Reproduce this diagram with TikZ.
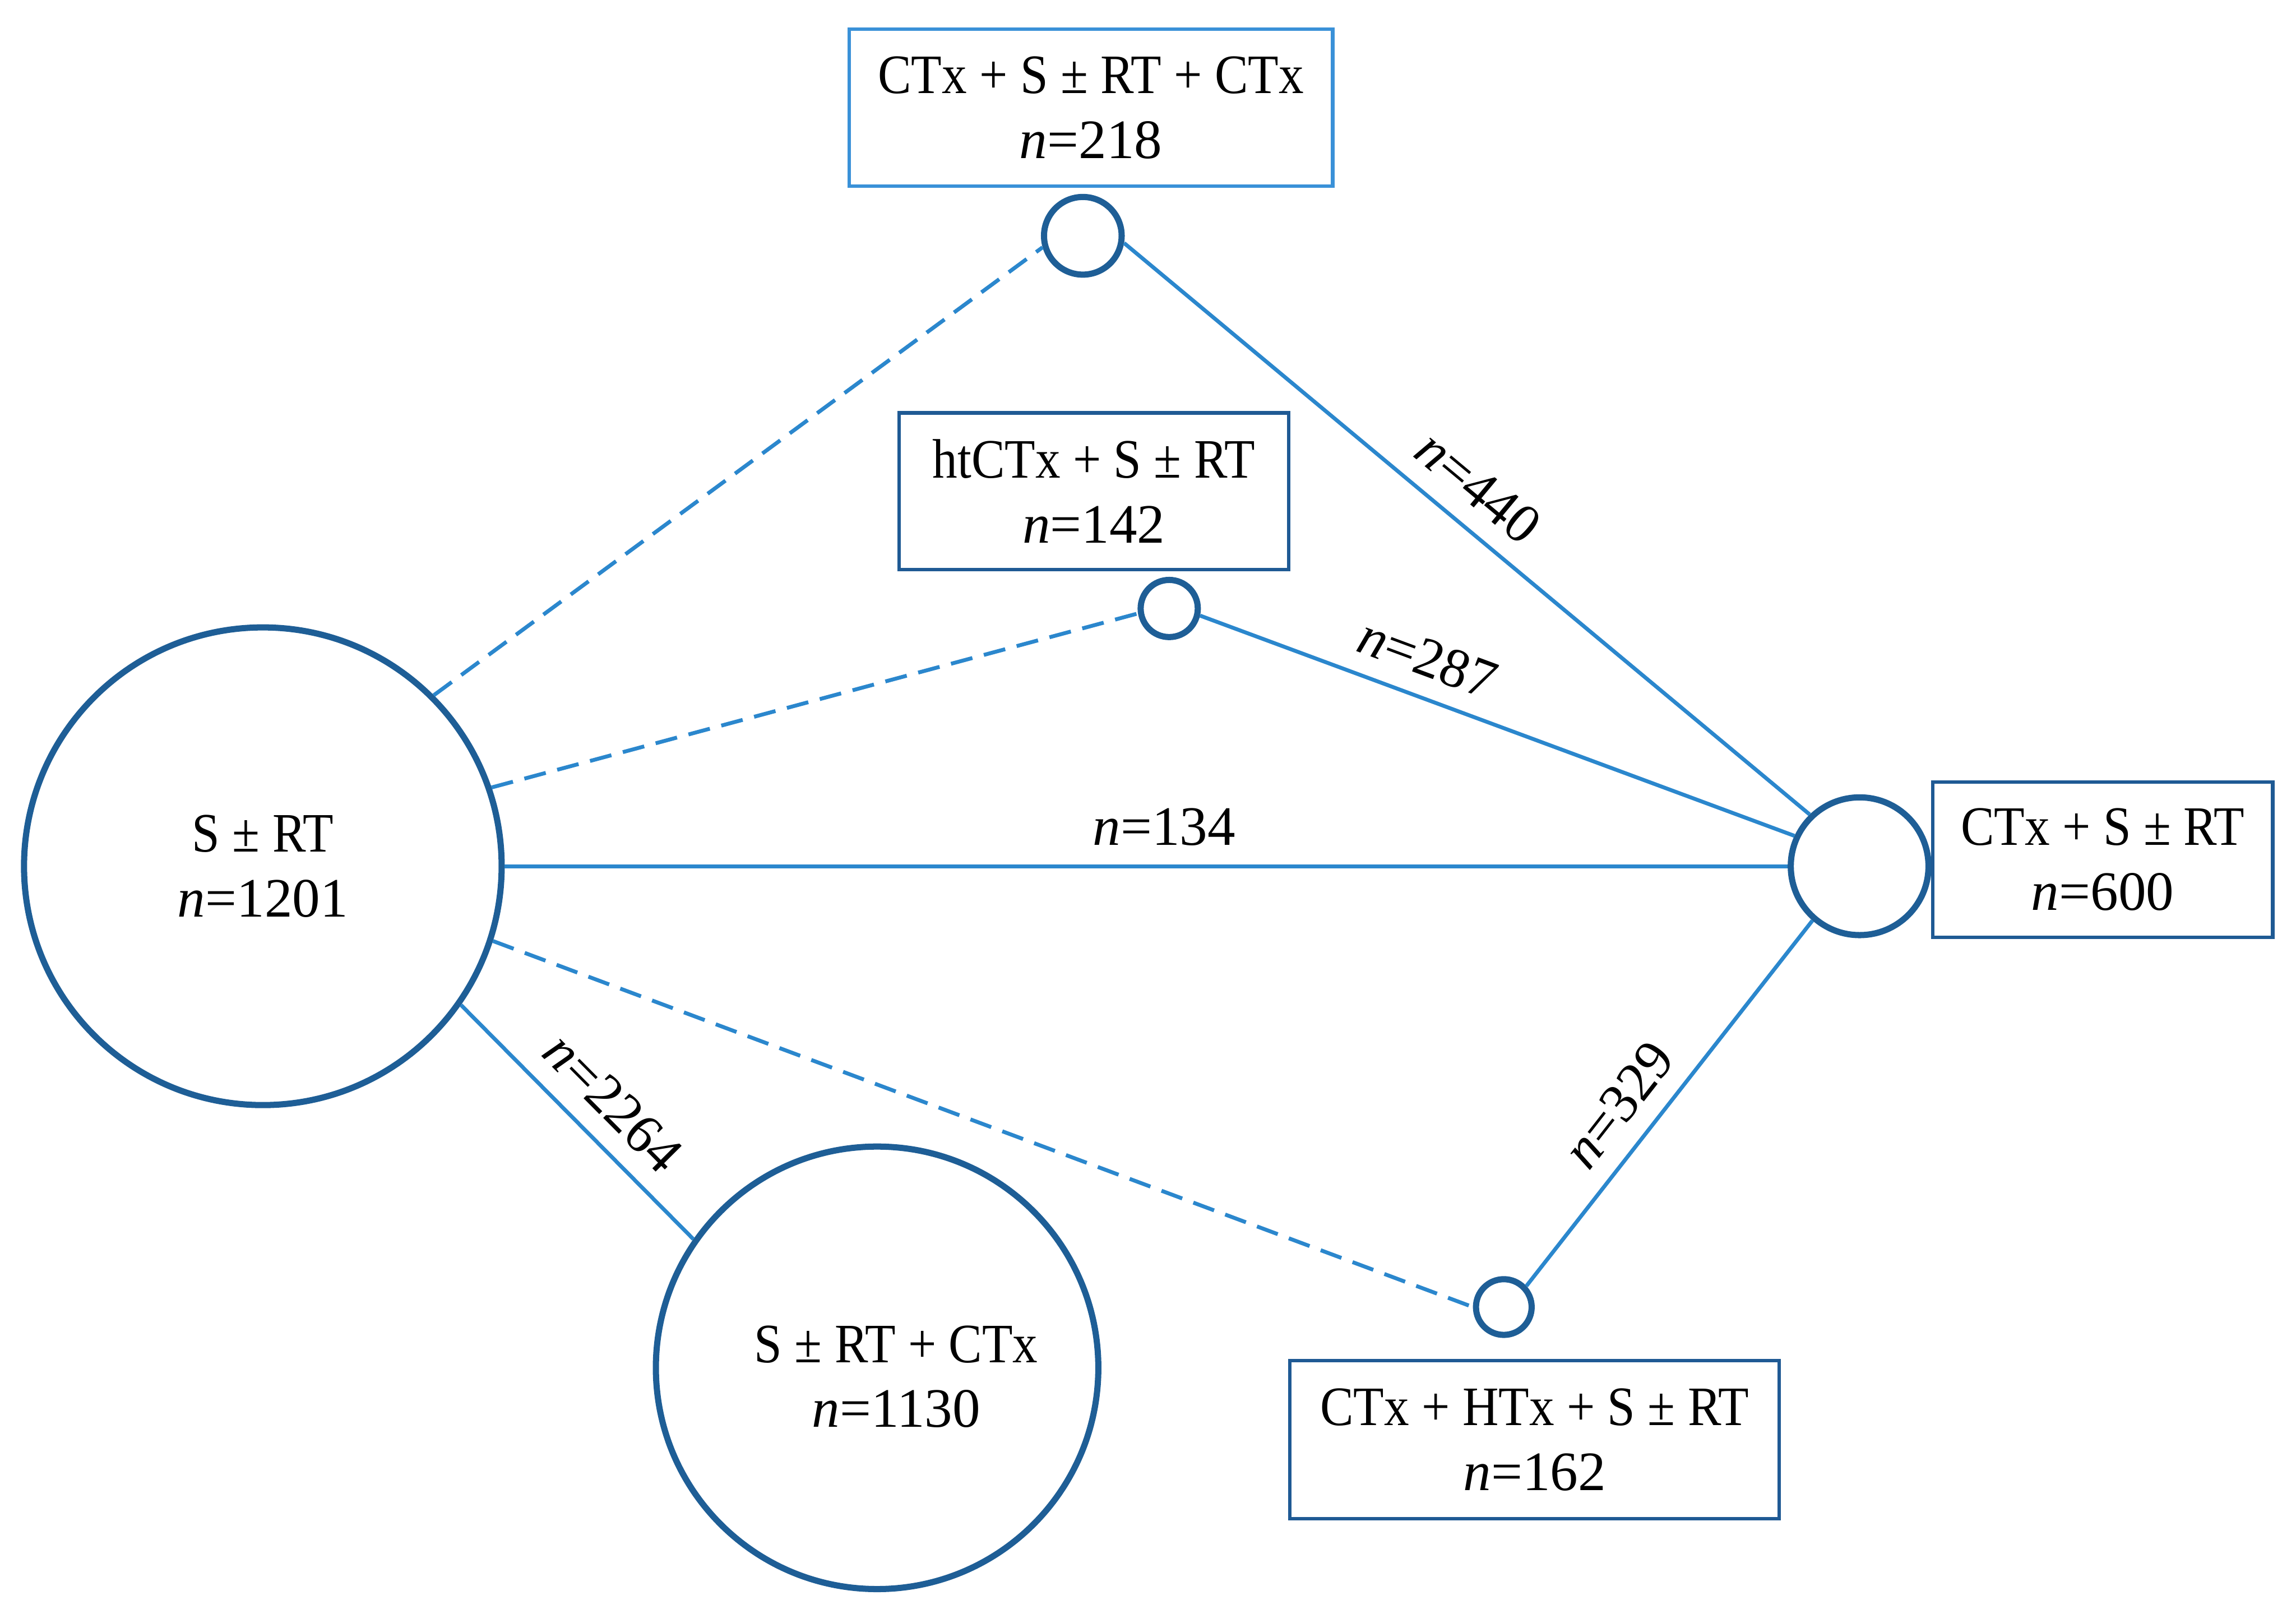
\documentclass[tikz,border=0pt]{standalone}
\usepackage{fontspec}
\setmainfont{Liberation Serif}
\newfontfamily\condf{Liberation Serif}[FakeStretch=0.9]
\definecolor{circ}{HTML}{1E5E96}
\definecolor{lin}{HTML}{2B87CD}
\definecolor{boxd}{HTML}{1F5A94}
\definecolor{boxl}{HTML}{3A91D8}
\tikzset{
  every node/.style={font=\fontsize{10.8}{12.6}\selectfont},
  ring/.style={circle, draw=circ, line width=1.2pt, inner sep=0pt, align=center},
  tbox/.style={rectangle, draw=boxd, line width=0.7pt, inner sep=0pt, align=center},
  link/.style={draw=lin, line width=0.75pt},
  dlink/.style={link, dash pattern=on 4.3pt off 2.3pt},
  nlab/.style={sloped, above, inner sep=3.6pt}
}
\begin{document}
\begin{tikzpicture}[x=0.01cm, y=-0.01cm]
\useasboundingbox (0,0) rectangle (1568,1102);
% circles
\node[ring, minimum size=3.26cm] (L) at (179.5,591.5) {{\condf S ± RT}\\\textit{n}=1201};
\node[ring, minimum size=3.02cm] (B) at (599,934) {};
\node (Btxt) at (612,940) [align=center] {{\condf S ± RT + CTx}\\\textit{n}=1130};
\node[ring, minimum size=0.94cm] (R) at (1270,591.5) {};
\node[ring, minimum size=0.53cm] (T) at (739.5,161) {};
\node[ring, minimum size=0.39cm] (M) at (798.5,415.5) {};
\node[ring, minimum size=0.38cm] (Bs) at (1027,892.5) {};
% boxes
\node[tbox, draw=boxl, minimum width=3.30cm, minimum height=1.07cm] (Tbox) at (745,73.5) {{\condf CTx + S ± RT + CTx}\\\textit{n}=218};
\node[tbox, minimum width=2.66cm, minimum height=1.07cm] (Mbox) at (747,335.5) {{\condf htCTx + S ± RT}\\\textit{n}=142};
\node[tbox, minimum width=2.32cm, minimum height=1.06cm] (Rbox) at (1436,587) {{\condf CTx + S ± RT}\\\textit{n}=600};
\node[tbox, minimum width=3.34cm, minimum height=1.08cm] (Bbox) at (1048,983) {{\condf CTx + HTx + S ± RT}\\\textit{n}=162};
% connectors
\draw[dlink] (L.45) -- (T.196);
\draw[link] (T.-10) -- node[nlab, pos=0.48] (l440) {\textit{n}=440} (R.134);
\draw[dlink] (L.19) -- (M.189);
\draw[link] (M.-13) -- node[nlab, pos=0.36] (l287) {\textit{n}=287} (R.155);
\draw[link] (L.east) -- node[above, pos=0.514, inner sep=3.6pt] (l134) {\textit{n}=134} (R.west);
\draw[dlink] (L.-18) -- (Bs.180);
\draw[link] (Bs.43) -- node[nlab, pos=0.43] (l329) {\textit{n}=329} (R.229);
\draw[link] (L.-35) -- node[nlab, pos=0.535] (l2264) {\textit{n}=2264} (B.145);
\end{tikzpicture}
\end{document}
